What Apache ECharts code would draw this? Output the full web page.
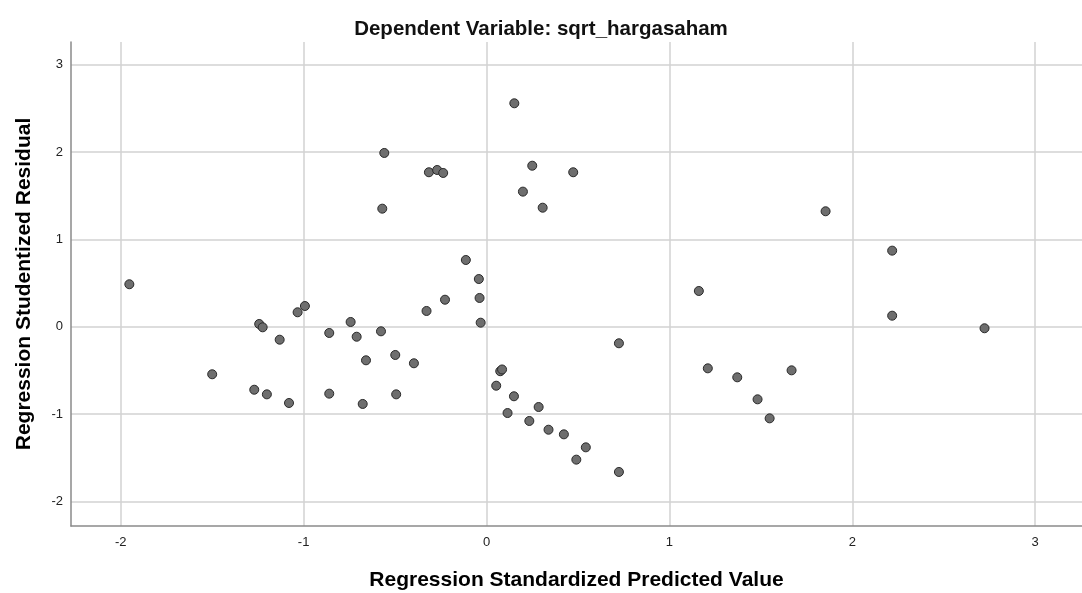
<!DOCTYPE html>
<html>
<head>
<meta charset="utf-8">
<script src="https://cdn.jsdelivr.net/npm/echarts@6/dist/echarts.min.js"></script>
<style>
html,body{margin:0;padding:0;background:#fff;}
#chart{width:1082px;height:593px;}
</style>
</head>
<body>
<div id="chart"></div>
<script>
// Regression Standardized Predicted Value
var predicted = [-1.953,-1.500,-1.270,-1.243,-1.224,-1.201,-1.131,-1.080,-1.033,-0.993,
  -0.860,-0.860,-0.743,-0.710,-0.677,-0.659,-0.577,-0.570,-0.559,-0.499,
  -0.494,-0.397,-0.328,-0.315,-0.270,-0.237,-0.227,-0.113,-0.042,-0.038,
  -0.032,0.053,0.075,0.085,0.115,0.150,0.152,0.199,0.234,0.250,
  0.285,0.307,0.339,0.423,0.474,0.491,0.543,0.724,0.724,1.161,
  1.210,1.371,1.482,1.548,1.668,1.854,2.218,2.218,2.723];
// Regression Studentized Residual
var residual = [0.486,-0.545,-0.722,0.031,-0.007,-0.775,-0.149,-0.874,0.165,0.237,
  -0.072,-0.767,0.054,-0.115,-0.885,-0.385,-0.053,1.352,1.990,-0.324,
  -0.775,-0.419,0.180,1.769,1.795,1.761,0.309,0.764,0.546,0.329,
  0.046,-0.676,-0.510,-0.490,-0.989,-0.797,2.559,1.547,-1.080,1.844,
  -0.920,1.363,-1.180,-1.233,1.769,-1.523,-1.382,-0.190,-1.664,0.409,
  -0.477,-0.580,-0.832,-1.050,-0.500,1.322,0.871,0.126,-0.018];
var titleText = 'Dependent Variable: sqrt_hargasaham';
var xName = 'Regression Standardized Predicted Value';
var yName = 'Regression Studentized Residual';

var points = predicted.map(function (v, i) { return [v, residual[i]]; });
var FONT = '"Liberation Sans", Arial, sans-serif';

var chart = echarts.init(document.getElementById('chart'), null, {renderer: 'canvas'});
chart.setOption({
  animation: false,
  backgroundColor: '#ffffff',
  title: {text: titleText, left: 'center', top: 14,
     textStyle: {fontFamily: FONT, fontSize: 20.5, fontWeight: 'bold', color: '#111'}},
  grid: {left: 71, right: 0, top: 42, bottom: 67, containLabel: false, outerBoundsMode: 'none'},
  xAxis: {
    type: 'value', min: -2.272, max: 3.256,
    name: xName, nameLocation: 'middle', nameGap: 44,
    nameTextStyle: {fontFamily: FONT, fontSize: 21, fontWeight: 'bold', color: '#000'},
    axisLine: {show: true, onZero: false, lineStyle: {color: '#8a8a8a', width: 1.5}},
    axisTick: {show: false},
    axisLabel: {showMinLabel: false, showMaxLabel: false, margin: 10,
      fontFamily: FONT, fontSize: 13, color: '#222'},
    splitLine: {show: true, showMinLine: false, showMaxLine: false,
      lineStyle: {color: '#d2d2d2', width: 1.5}}
  },
  yAxis: {
    type: 'value', min: -2.283, max: 3.261,
    name: yName, nameLocation: 'middle', nameGap: 36, nameRotate: 90,
    nameTextStyle: {fontFamily: FONT, fontSize: 21, fontWeight: 'bold', color: '#000'},
    axisLine: {show: true, onZero: false, lineStyle: {color: '#8a8a8a', width: 1.5}},
    axisTick: {show: false},
    axisLabel: {showMinLabel: false, showMaxLabel: false, margin: 8,
      fontFamily: FONT, fontSize: 13, color: '#222'},
    splitLine: {show: true, showMinLine: false, showMaxLine: false,
      lineStyle: {color: '#d2d2d2', width: 1.5}}
  },
  series: [{
    type: 'scatter',
    data: points,
    symbol: 'circle',
    symbolSize: 9,
    itemStyle: {color: '#6e6e6e', borderColor: '#2a2a2a', borderWidth: 1, opacity: 1}
  }]
});
</script>
</body>
</html>
